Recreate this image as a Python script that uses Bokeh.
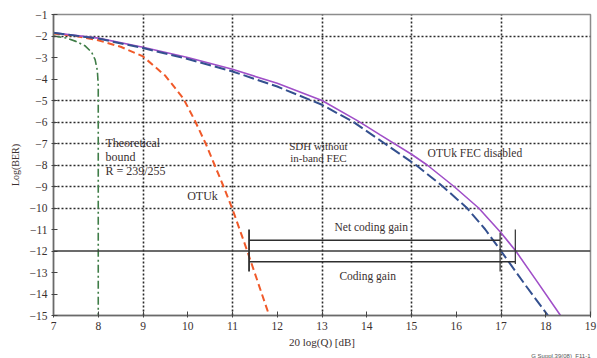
from bokeh.plotting import figure
from bokeh.models import FixedTicker, Label, Span, Title
from bokeh.embed import file_html
from bokeh.resources import INLINE

# ---- data ----
theory_x = [7.0, 7.3, 7.5, 7.7, 7.85, 7.93, 7.98, 8.0, 8.0]
theory_y = [-2.0, -2.1, -2.25, -2.45, -2.75, -3.1, -3.6, -4.3, -15.0]

otuk_x = [7.0, 7.5, 8.0, 8.5, 9.0, 9.5, 9.9, 10.15, 10.4, 10.6, 10.8, 10.99, 11.33, 11.82]
otuk_y = [-1.88, -2.0, -2.2, -2.5, -2.95, -3.85, -4.9, -5.9, -7.0, -8.0, -9.0, -10.0, -12.0, -15.0]

sdh_x = [7.0, 8.0, 9.0, 10.0, 11.0, 12.0, 13.0, 13.7, 14.4, 15.1, 15.7, 16.24, 16.65, 17.0, 17.55, 18.05]
sdh_y = [-1.85, -2.12, -2.56, -3.07, -3.65, -4.35, -5.2, -6.0, -7.0, -8.0, -9.0, -10.0, -11.0, -12.0, -13.6, -15.0]

fecoff_x = [7.0, 8.0, 9.0, 10.0, 11.0, 12.0, 13.0, 13.8, 14.3, 15.0, 15.35, 15.95, 16.5, 17.0, 17.33, 17.8, 18.33]
fecoff_y = [-1.85, -2.1, -2.52, -3.0, -3.55, -4.2, -5.0, -5.95, -6.6, -7.5, -8.0, -9.0, -10.0, -11.15, -12.0, -13.4, -15.0]

x_ticks = list(range(7, 20))
y_ticks = list(range(-15, 0))
x_grid = [9, 11, 13, 15, 17]
y_grid = [-2, -5, -6, -7, -8, -9, -10]

ref_ber = -12.0
net_gain_x = [11.37, 16.98]
net_gain_y = -11.5
coding_gain_x = [11.37, 17.32]
coding_gain_y = -12.5

FONT = "Liberation Serif"
TXT = "#3a3030"

p = figure(width=597, height=358, x_range=(7, 19), y_range=(-15, -1),
           output_backend="svg", toolbar_location=None,
           min_border_left=53, min_border_right=7, min_border_top=14, min_border_bottom=41)
p.background_fill_color = "white"
p.outline_line_color = "#8c8c8c"
p.outline_line_width = 1.5

# grids
p.xgrid.ticker = FixedTicker(ticks=x_grid)
p.ygrid.ticker = FixedTicker(ticks=y_grid)
for g in (p.xgrid, p.ygrid):
    g.grid_line_color = "#2a2a2a"
    g.grid_line_dash = "2 2"
    g.grid_line_width = 1.6

# axes
p.xaxis.ticker = FixedTicker(ticks=x_ticks)
p.yaxis.ticker = FixedTicker(ticks=y_ticks)
p.yaxis.major_label_overrides = {v: "\u2212" + str(-v) for v in y_ticks}
for ax in (p.xaxis, p.yaxis):
    ax.axis_line_color = "#6a6a6a"
    ax.axis_line_width = 1.5
    ax.major_tick_in = 4
    ax.major_tick_out = 2
    ax.major_tick_line_color = "#444444"
    ax.minor_tick_line_color = None
    ax.major_label_text_font = FONT
    ax.major_label_text_font_size = "11.5px"
    ax.major_label_text_color = TXT
    ax.major_label_standoff = 4
    ax.axis_label_text_font = FONT
    ax.axis_label_text_font_style = "normal"
    ax.axis_label_text_color = TXT
p.yaxis.axis_label = "Log(BER)"
p.yaxis.axis_label_text_font_size = "10px"
p.yaxis.axis_label_standoff = 6
p.xaxis.axis_label = "20 log(Q) [dB]"
p.xaxis.axis_label_text_font_size = "11px"
p.xaxis.axis_label_standoff = 3

p.add_layout(Title(text="G Suppl.39(08)_F11-1", align="right", text_font="Liberation Sans",
                   text_font_size="6px", text_font_style="normal", text_color="#555555",
                   standoff=0), "below")

# reference line at BER 1e-12
p.add_layout(Span(location=ref_ber, dimension="width", line_color="#3a3a3a", line_width=1.4))

# curves
p.line(theory_x, theory_y, line_color="#3f7d47", line_width=1.6, line_dash="8 3 2 3")
p.line(otuk_x, otuk_y, line_color="#f05a2a", line_width=2, line_dash="7 4")
p.line(fecoff_x, fecoff_y, line_color="#a04fc8", line_width=1.6)
p.line(sdh_x, sdh_y, line_color="#34508f", line_width=2, line_dash="11 4")

# coding gain brackets
LC = "#2e2e2e"
p.line(net_gain_x, [net_gain_y, net_gain_y], line_color=LC, line_width=1.4)
p.line(coding_gain_x, [coding_gain_y, coding_gain_y], line_color=LC, line_width=1.4)
p.line([net_gain_x[0], net_gain_x[0]], [-11.0, -12.95], line_color=LC, line_width=1.8)
p.line([net_gain_x[1], net_gain_x[1]], [-11.15, -12.95], line_color=LC, line_width=1.2)
p.line([coding_gain_x[1], coding_gain_x[1]], [-11.0, -12.6], line_color=LC, line_width=1.2)

def lab(x, y, t, align="left", size="12px"):
    p.add_layout(Label(x=x, y=y, text=t, text_font=FONT, text_font_size=size,
                       text_color=TXT, text_align=align, text_baseline="middle"))

lab(8.16, -6.98, "Theoretical")
lab(8.16, -7.63, "bound")
lab(8.16, -8.27, "R = 239/255")
lab(10.33, -9.46, "OTUk", align="center")
lab(12.92, -7.12, "SDH without", align="center", size="11px")
lab(12.92, -7.66, "in-band FEC", align="center", size="11px")
lab(15.36, -7.45, "OTUk FEC disabled", size="11.5px")
lab(14.1, -10.9, "Net coding gain", align="center", size="11.5px")
lab(14.02, -13.17, "Coding gain", align="center", size="11.5px")

open("out.html", "w").write(file_html(p, INLINE))
